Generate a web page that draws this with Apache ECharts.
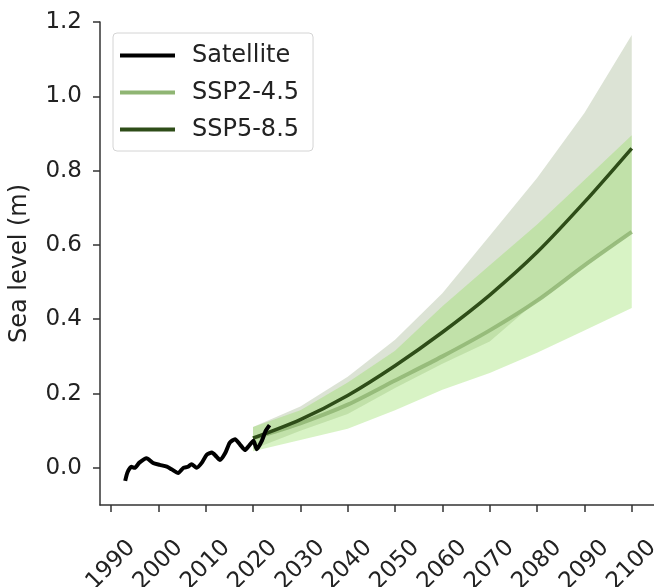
<!DOCTYPE html>
<html style="height: 100%;">
<head>
  <meta charset="utf-8">
  <title>Sea level</title>
  <script type="text/javascript" src="https://cdn.jsdelivr.net/npm/echarts@6/dist/echarts.min.js"></script>
</head>
<body style="height: 100%; margin: 0; background: #fff;">
  <div id="container" style="width: 654px; height: 587px;"></div>
  <script type="text/javascript">
    // satellite record
    var satYears = [1993.0, 1993.5, 1994.3, 1995.0, 1996.0, 1997.5, 1998.9, 2000.3, 2001.8, 2002.8,
                    2004.2, 2005.3, 2006.3, 2007.0, 2008.1, 2009.2, 2010.2, 2011.3, 2012.3, 2013.0,
                    2014.1, 2015.1, 2016.2, 2017.3, 2018.3, 2019.0, 2020.1, 2020.8, 2021.8, 2022.7, 2023.5];
    var satValues = [-0.035, -0.012, 0.003, 0.0, 0.014, 0.026, 0.013, 0.008, 0.003, -0.004,
                     -0.014, 0.0, 0.003, 0.01, 0.0, 0.014, 0.035, 0.041, 0.03, 0.021,
                     0.039, 0.068, 0.077, 0.062, 0.048, 0.057, 0.073, 0.05, 0.071, 0.1, 0.115];

    // projections
    var projYears = [2020, 2030, 2040, 2050, 2060, 2070, 2080, 2090, 2100];
    var ssp245Med  = [0.08, 0.12, 0.17, 0.235, 0.30, 0.37, 0.45, 0.545, 0.635];
    var ssp245Low  = [0.045, 0.075, 0.105, 0.155, 0.21, 0.255, 0.31, 0.37, 0.43];
    var ssp245High = [0.11, 0.155, 0.23, 0.315, 0.435, 0.545, 0.655, 0.775, 0.895];
    var ssp585Med  = [0.08, 0.13, 0.195, 0.275, 0.365, 0.465, 0.58, 0.715, 0.86];
    var ssp585Low  = [0.05, 0.10, 0.145, 0.215, 0.28, 0.34, 0.45, 0.55, 0.635];
    var ssp585High = [0.11, 0.165, 0.245, 0.345, 0.47, 0.625, 0.78, 0.955, 1.165];

    var xTicks = [1990, 2000, 2010, 2020, 2030, 2040, 2050, 2060, 2070, 2080, 2090, 2100];
    var yTicks = [0, 0.2, 0.4, 0.6, 0.8, 1.0, 1.2];

    var FONT = 'DejaVu Sans';
    var COL_SAT = '#000000';
    var COL_245 = '#8fb573';
    var COL_585 = '#2e4d18';

    function pairs(xs, ys) {
      var out = [];
      for (var i = 0; i < xs.length; i++) out.push([xs[i], ys[i]]);
      return out;
    }

    // shaded range drawn as a polygon through the axes
    function band(low, high, fill) {
      return {
        type: 'custom',
        silent: true,
        z: 1,
        data: [[projYears[0], low[0]]],
        renderItem: function (params, api) {
          var pts = [];
          for (var i = 0; i < projYears.length; i++) pts.push(api.coord([projYears[i], high[i]]));
          for (var j = projYears.length - 1; j >= 0; j--) pts.push(api.coord([projYears[j], low[j]]));
          return { type: 'polygon', shape: { points: pts }, style: { fill: fill } };
        }
      };
    }

    var dom = document.getElementById('container');
    var myChart = echarts.init(dom);
    var option = {
      animation: false,
      grid: { left: 100, top: 22, bottom: 82, right: 0, containLabel: false, outerBoundsMode: 'none' },
      legend: {
        data: ['Satellite', 'SSP2-4.5', 'SSP5-8.5'],
        orient: 'vertical',
        left: 113,
        top: 33,
        icon: 'rect',
        itemWidth: 55,
        itemHeight: 4,
        itemGap: 12,
        padding: [10, 14, 9, 7],
        borderColor: '#d4d4d4',
        borderWidth: 1,
        borderRadius: 4,
        textStyle: { fontFamily: FONT, fontSize: 24, color: '#222', lineHeight: 25, padding: [0, 0, 0, 12] }
      },
      xAxis: {
        type: 'value',
        min: 1987.68,
        max: 2104.7,
        axisLine: { onZero: false, lineStyle: { color: '#333', width: 1.5 } },
        axisTick: { length: 7, lineStyle: { color: '#333', width: 1.5 }, customValues: xTicks },
        axisLabel: {
          customValues: xTicks,
          rotate: 45,
          align: 'center',
          verticalAlign: 'middle',
          margin: 60,
          fontFamily: FONT,
          fontSize: 23,
          color: '#222',
          formatter: function (v) { return String(v); }
        },
        splitLine: { show: false }
      },
      yAxis: {
        type: 'value',
        min: -0.1,
        max: 1.2,
        name: 'Sea level (m)',
        nameLocation: 'middle',
        nameGap: 68,
        nameTextStyle: { fontFamily: FONT, fontSize: 24, color: '#222' },
        axisLine: { show: true, onZero: false, lineStyle: { color: '#333', width: 1.5 } },
        axisTick: { show: true, length: 7, lineStyle: { color: '#333', width: 1.5 }, customValues: yTicks },
        axisLabel: {
          customValues: yTicks,
          margin: 18,
          fontFamily: FONT,
          fontSize: 23,
          color: '#222',
          formatter: function (v) { return v.toFixed(1); }
        },
        splitLine: { show: false }
      },
      series: [
        band(ssp585Low, ssp585High, 'rgba(80,115,45,0.2)'),
        band(ssp245Low, ssp245High, 'rgba(144,220,90,0.35)'),
        {
          name: 'SSP2-4.5',
          type: 'line',
          z: 3,
          symbol: 'none',
          smooth: 0.3,
          data: pairs(projYears, ssp245Med),
          itemStyle: { color: COL_245 },
          lineStyle: { color: COL_245, width: 4, opacity: 0.85 }
        },
        {
          name: 'SSP5-8.5',
          type: 'line',
          z: 4,
          symbol: 'none',
          smooth: 0.3,
          data: pairs(projYears, ssp585Med),
          itemStyle: { color: COL_585 },
          lineStyle: { color: COL_585, width: 3.5 }
        },
        {
          name: 'Satellite',
          type: 'line',
          z: 5,
          symbol: 'none',
          smooth: 0.2,
          data: pairs(satYears, satValues),
          itemStyle: { color: COL_SAT },
          lineStyle: { color: COL_SAT, width: 4 }
        }
      ]
    };
    myChart.setOption(option);
    window.onresize = function () { myChart.resize(); };
  </script>
</body>
</html>
